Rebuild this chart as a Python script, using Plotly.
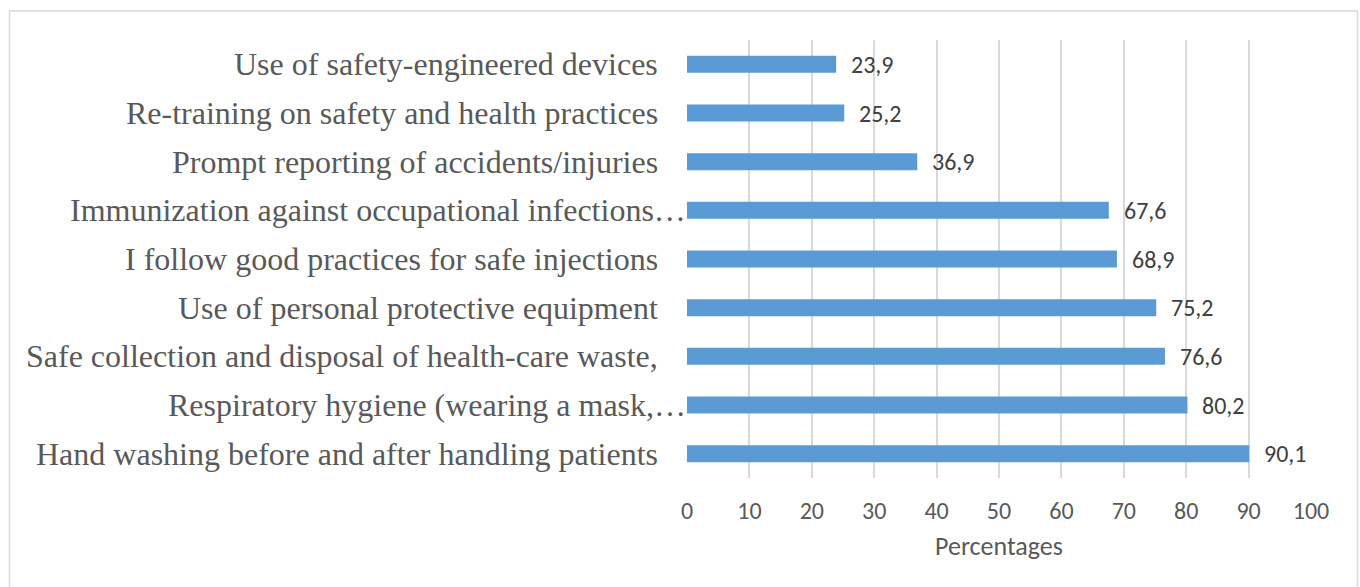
import plotly.graph_objects as go

# Practices reported by respondents (bottom to top as drawn)
categories = [
    "Hand washing before and after handling patients",
    "Respiratory hygiene (wearing a mask,…",
    "Safe collection and disposal of health-care waste,",
    "Use of personal protective equipment",
    "I follow good practices for safe injections",
    "Immunization against occupational infections…",
    "Prompt reporting of accidents/injuries",
    "Re-training on safety and health practices",
    "Use of safety-engineered devices",
]
percentages = [90.1, 80.2, 76.6, 75.2, 68.9, 67.6, 36.9, 25.2, 23.9]
x_ticks = [0, 10, 20, 30, 40, 50, 60, 70, 80, 90, 100]
x_title = "Percentages"

BAR_COLOR = "#5B9BD5"
TEXT_GRAY = "#595959"
SANS = "Carlito, Open Sans, sans-serif"
SERIF = "Liberation Serif, Times New Roman, serif"

fig = go.Figure(
    go.Bar(
        x=percentages,
        y=categories,
        orientation="h",
        marker=dict(color=BAR_COLOR, line=dict(width=0)),
        hoverinfo="skip",
    )
)

annotations = []
# value labels to the right of each bar, decimal comma
for cat, val in zip(categories, percentages):
    annotations.append(dict(
        x=val, y=cat, xref="x", yref="y",
        text=f"{val:.1f}".replace(".", ","),
        showarrow=False, xanchor="left", yanchor="middle",
        xshift=13, font=dict(family=SANS, size=24, color="#404040"),
    ))
# category labels, right-aligned against the value axis
for cat in categories:
    truncated = cat.endswith("…")
    annotations.append(dict(
        x=0, y=cat, xref="x", yref="y",
        text=cat, showarrow=False, xanchor="right", yanchor="middle",
        xshift=1 if truncated else -27,
        font=dict(family=SERIF, size=32, color=TEXT_GRAY),
    ))

fig.update_layout(
    width=1360, height=587,
    margin=dict(l=687, r=49, t=40, b=109, autoexpand=False),
    paper_bgcolor="white", plot_bgcolor="white",
    bargap=0.65,
    showlegend=False,
    annotations=annotations,
    xaxis=dict(
        range=[0, 100], tickvals=x_ticks, ticktext=[str(t) for t in x_ticks],
        showgrid=True, gridcolor="#D9D9D9", gridwidth=1.5,
        zeroline=False, showline=False, ticks="",
        ticklabelstandoff=16,
        tickfont=dict(family=SANS, size=24, color=TEXT_GRAY),
        title=dict(text=x_title, font=dict(family=SANS, size=26, color=TEXT_GRAY), standoff=12),
        automargin=False, fixedrange=True,
    ),
    yaxis=dict(
        categoryorder="array", categoryarray=categories,
        showticklabels=False, showgrid=False, zeroline=False, showline=False,
        automargin=False, fixedrange=True,
    ),
    shapes=[dict(
        type="rect", xref="paper", yref="paper",
        x0=-1.0857, x1=1.0745, y0=-0.30, y1=1.066,
        line=dict(color="#D9D9D9", width=1.5), fillcolor="rgba(0,0,0,0)", layer="below",
    )],
)

fig.write_html("out.html", config=dict(displayModeBar=False))
